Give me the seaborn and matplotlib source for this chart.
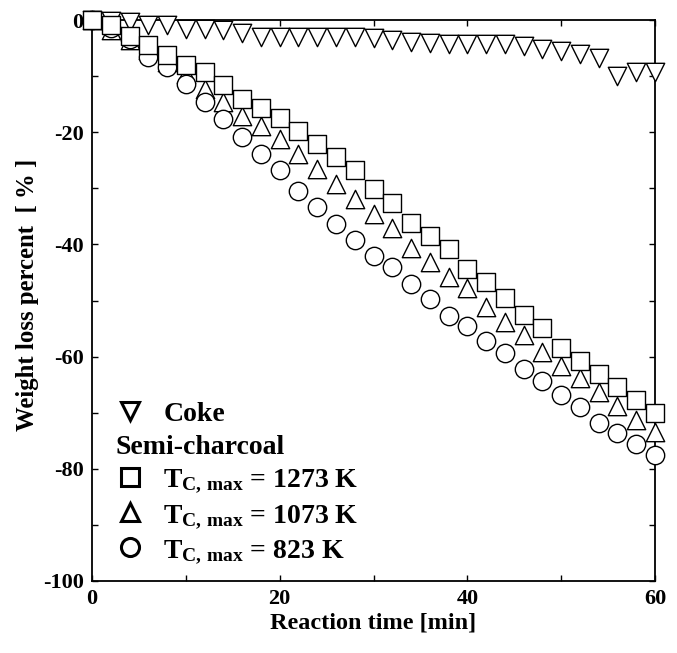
import seaborn as sns
import matplotlib.pyplot as plt
from matplotlib.lines import Line2D
from matplotlib.ticker import MultipleLocator

# reaction time [min]
time = [0, 2, 4, 6, 8, 10, 12, 14, 16, 18, 20, 22, 24, 26, 28, 30,
        32, 34, 36, 38, 40, 42, 44, 46, 48, 50, 52, 54, 56, 58, 60]

# weight loss percent [%]
coke = [0, -0.2, -0.4, -0.9, -0.9, -1.6, -1.6, -1.8, -2.4, -3.0, -3.0, -3.0, -3.0, -3.0, -3.0, -3.2,
        -3.6, -3.9, -4.1, -4.2, -4.2, -4.2, -4.2, -4.6, -5.1, -5.6, -6.1, -6.8, -10.0, -9.3, -9.3]
semi_1273 = [0, -0.9, -2.8, -4.5, -6.3, -8.1, -9.2, -11.6, -14.0, -15.7, -17.4, -19.8, -22.1, -24.4, -26.8, -30.2,
             -32.7, -36.1, -38.5, -40.8, -44.4, -46.7, -49.6, -52.6, -54.9, -58.4, -60.8, -63.1, -65.4, -67.8, -70.1]
semi_1073 = [0, -1.7, -3.5, -5.4, -7.5, -9.6, -12.3, -14.6, -17.1, -18.9, -21.2, -23.8, -26.6, -29.3, -31.9, -34.5,
             -37.1, -40.7, -43.2, -45.9, -47.8, -51.2, -53.8, -56.1, -59.2, -61.6, -63.8, -66.3, -68.8, -71.3, -73.5]
semi_823 = [0, -1.4, -3.3, -6.6, -8.4, -11.4, -14.7, -17.6, -20.9, -23.9, -26.7, -30.4, -33.4, -36.3, -39.2, -42.0,
            -44.1, -47.1, -49.8, -52.7, -54.6, -57.2, -59.3, -62.2, -64.4, -66.9, -68.9, -71.9, -73.7, -75.5, -77.5]

labels = ['Coke', 'Semi-charcoal',
          r'$\mathrm{T_{C,\,max}}$ = 1273 K',
          r'$\mathrm{T_{C,\,max}}$ = 1073 K',
          r'$\mathrm{T_{C,\,max}}$ = 823 K']

sns.set_style('ticks')
plt.rcParams['font.family'] = ['Liberation Serif', 'DejaVu Serif']
plt.rcParams['font.weight'] = 'bold'
plt.rcParams['axes.labelweight'] = 'bold'
plt.rcParams['axes.unicode_minus'] = False
plt.rcParams['text.color'] = 'black'
plt.rcParams['axes.labelcolor'] = 'black'
plt.rcParams['xtick.color'] = 'black'
plt.rcParams['ytick.color'] = 'black'
plt.rcParams['mathtext.fontset'] = 'custom'
plt.rcParams['mathtext.rm'] = 'Liberation Serif:bold'
plt.rcParams['mathtext.it'] = 'Liberation Serif:bold'
plt.rcParams['mathtext.bf'] = 'Liberation Serif:bold'

fig = plt.figure(figsize=(6.77, 6.53), dpi=100)
ax = fig.add_axes([92 / 677, 1 - 581 / 653, 563 / 677, 561 / 653])

mk = dict(s=175, facecolor='white', edgecolor='black', linewidth=1.0, clip_on=False, legend=False, ax=ax)
sns.scatterplot(x=time, y=coke, marker='v', zorder=3, **mk)
sns.scatterplot(x=time, y=semi_1073, marker='^', zorder=4, **mk)
sns.scatterplot(x=time, y=semi_823, marker='o', zorder=5, **mk)
sns.scatterplot(x=time, y=semi_1273, marker='s', zorder=6, **mk)

ax.set_xlim(0, 60)
ax.set_ylim(-100, 0)
ax.xaxis.set_major_locator(MultipleLocator(20))
ax.xaxis.set_minor_locator(MultipleLocator(10))
ax.yaxis.set_major_locator(MultipleLocator(20))
ax.yaxis.set_minor_locator(MultipleLocator(10))
ax.tick_params(which='both', direction='in', top=True, right=True, length=4, width=1, labelsize=16, pad=6)
for sp in ax.spines.values():
    sp.set_linewidth(1.3)
    sp.set_color('black')

ax.set_xlabel('Reaction time [min]', fontsize=17.5, labelpad=2)
ax.set_ylabel('Weight loss percent  [ % ]', fontsize=17.8)
ax.yaxis.set_label_coords(-0.094, 0.51)

lk = dict(linestyle='none', markerfacecolor='white', markeredgecolor='black', markeredgewidth=2.2, markersize=13)
handles = [Line2D([], [], marker='v', **lk),
           Line2D([], [], linestyle='none'),
           Line2D([], [], marker='s', **lk),
           Line2D([], [], marker='^', **lk),
           Line2D([], [], marker='o', **lk)]
leg = ax.legend(handles, labels, loc='lower left', bbox_to_anchor=(0.043, 0.027), frameon=False,
                fontsize=20, handlelength=1.0, handletextpad=0.7, labelspacing=0.26,
                borderpad=0, borderaxespad=0)
leg.get_texts()[1].set_x(-48)

fig.savefig('out.png', dpi=100)
